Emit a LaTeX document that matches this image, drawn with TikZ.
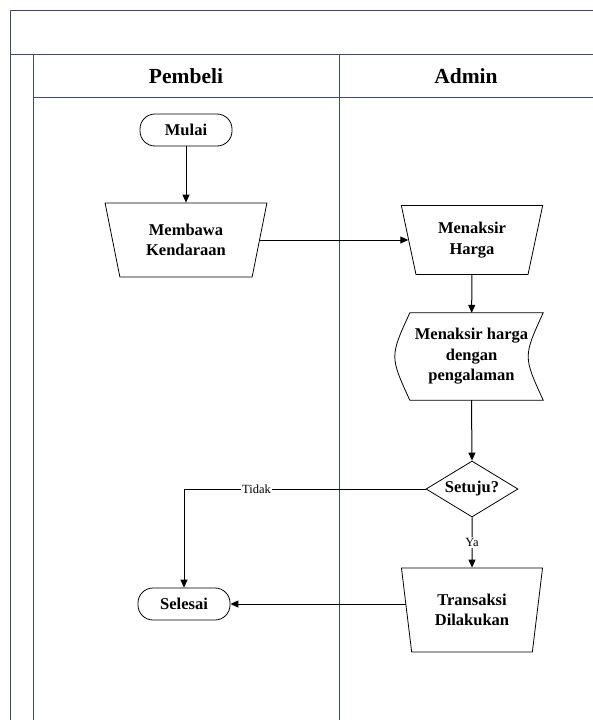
\documentclass[tikz,border=0pt]{standalone}
\usepackage{fontspec}
\setmainfont{Liberation Serif}
\usetikzlibrary{shapes.geometric,arrows.meta}
\definecolor{frame}{HTML}{3E4C6E}
\tikzset{
  lane/.style={draw=frame,line width=1pt},
  txt/.style={font=\fontsize{16.5}{20.5}\selectfont\bfseries,align=center},
  term/.style={txt,draw,rounded corners=15pt,minimum width=92pt,minimum height=32pt,line width=0.8pt},
  manual/.style={txt,draw,trapezium,shape border rotate=180,trapezium stretches=true,line width=0.8pt},
  dec/.style={txt,draw,diamond,aspect=1.6,minimum width=92pt,minimum height=56pt,inner sep=0pt,line width=0.8pt},
  conn/.style={line width=1pt,-{Triangle[length=8pt,width=7pt]}},
  lbl/.style={font=\fontsize{12.5}{14}\selectfont,fill=white,inner sep=1pt}
}
\begin{document}
\begin{tikzpicture}[x=1pt,y=-1pt]
\useasboundingbox (0,0) rectangle (593,720);
% frame
\draw[lane] (10,720) -- (10,10) -- (600,10);
\draw[lane] (10,54) -- (600,54);
\draw[lane] (33,720) -- (33,54);
\draw[lane] (33,97) -- (600,97);
\draw[lane] (339,54) -- (339,720);
\node[font=\fontsize{21.5}{24}\selectfont\bfseries] (h1) at (186,76) {Pembeli};
\node[font=\fontsize{21.5}{24}\selectfont\bfseries] (h2) at (466,76) {Admin};
% nodes
\node[term] (mulai) at (186,130) {Mulai};
\node[manual,minimum width=162pt,minimum height=74pt,trapezium left angle=76,trapezium right angle=76] (bawa) at (186,240) {Membawa\\Kendaraan};
\node[manual,minimum width=142pt,minimum height=69pt,trapezium left angle=77,trapezium right angle=77] (harga) at (472,240) {Menaksir\\Harga};
\node[txt,minimum width=143pt,minimum height=87pt,inner sep=0pt] (exp) at (471.5,356.5) {Menaksir harga\\dengan\\pengalaman};
\draw[line width=0.8pt] ([xshift=10pt]exp.north west) -- (exp.north east)
  .. controls ([xshift=-20pt]exp.east) .. (exp.south east)
  -- ([xshift=10pt]exp.south west)
  .. controls ([xshift=-10pt]exp.west) .. cycle;
\node[dec] (setuju) at (472,489) {Setuju?};
\node[manual,minimum width=142pt,minimum height=84pt,trapezium left angle=80,trapezium right angle=80] (trans) at (472,610) {Transaksi\\Dilakukan};
\node[term] (selesai) at (184,604) {Selesai};
% connectors
\draw[conn] (mulai) -- (bawa);
\draw[conn] (bawa.east) -- (bawa.east -| harga.west);
\draw[conn] (harga) -- (exp);
\draw[conn] (exp.south) -- (setuju.north);
\draw[conn] (setuju.west) -| node[lbl,pos=0.35] {Tidak} (selesai.north);
\draw[conn] (setuju.south) -- node[lbl] {Ya} (trans.north);
\draw[conn] (trans.west |- selesai.east) -- (selesai.east);
\end{tikzpicture}
\end{document}
